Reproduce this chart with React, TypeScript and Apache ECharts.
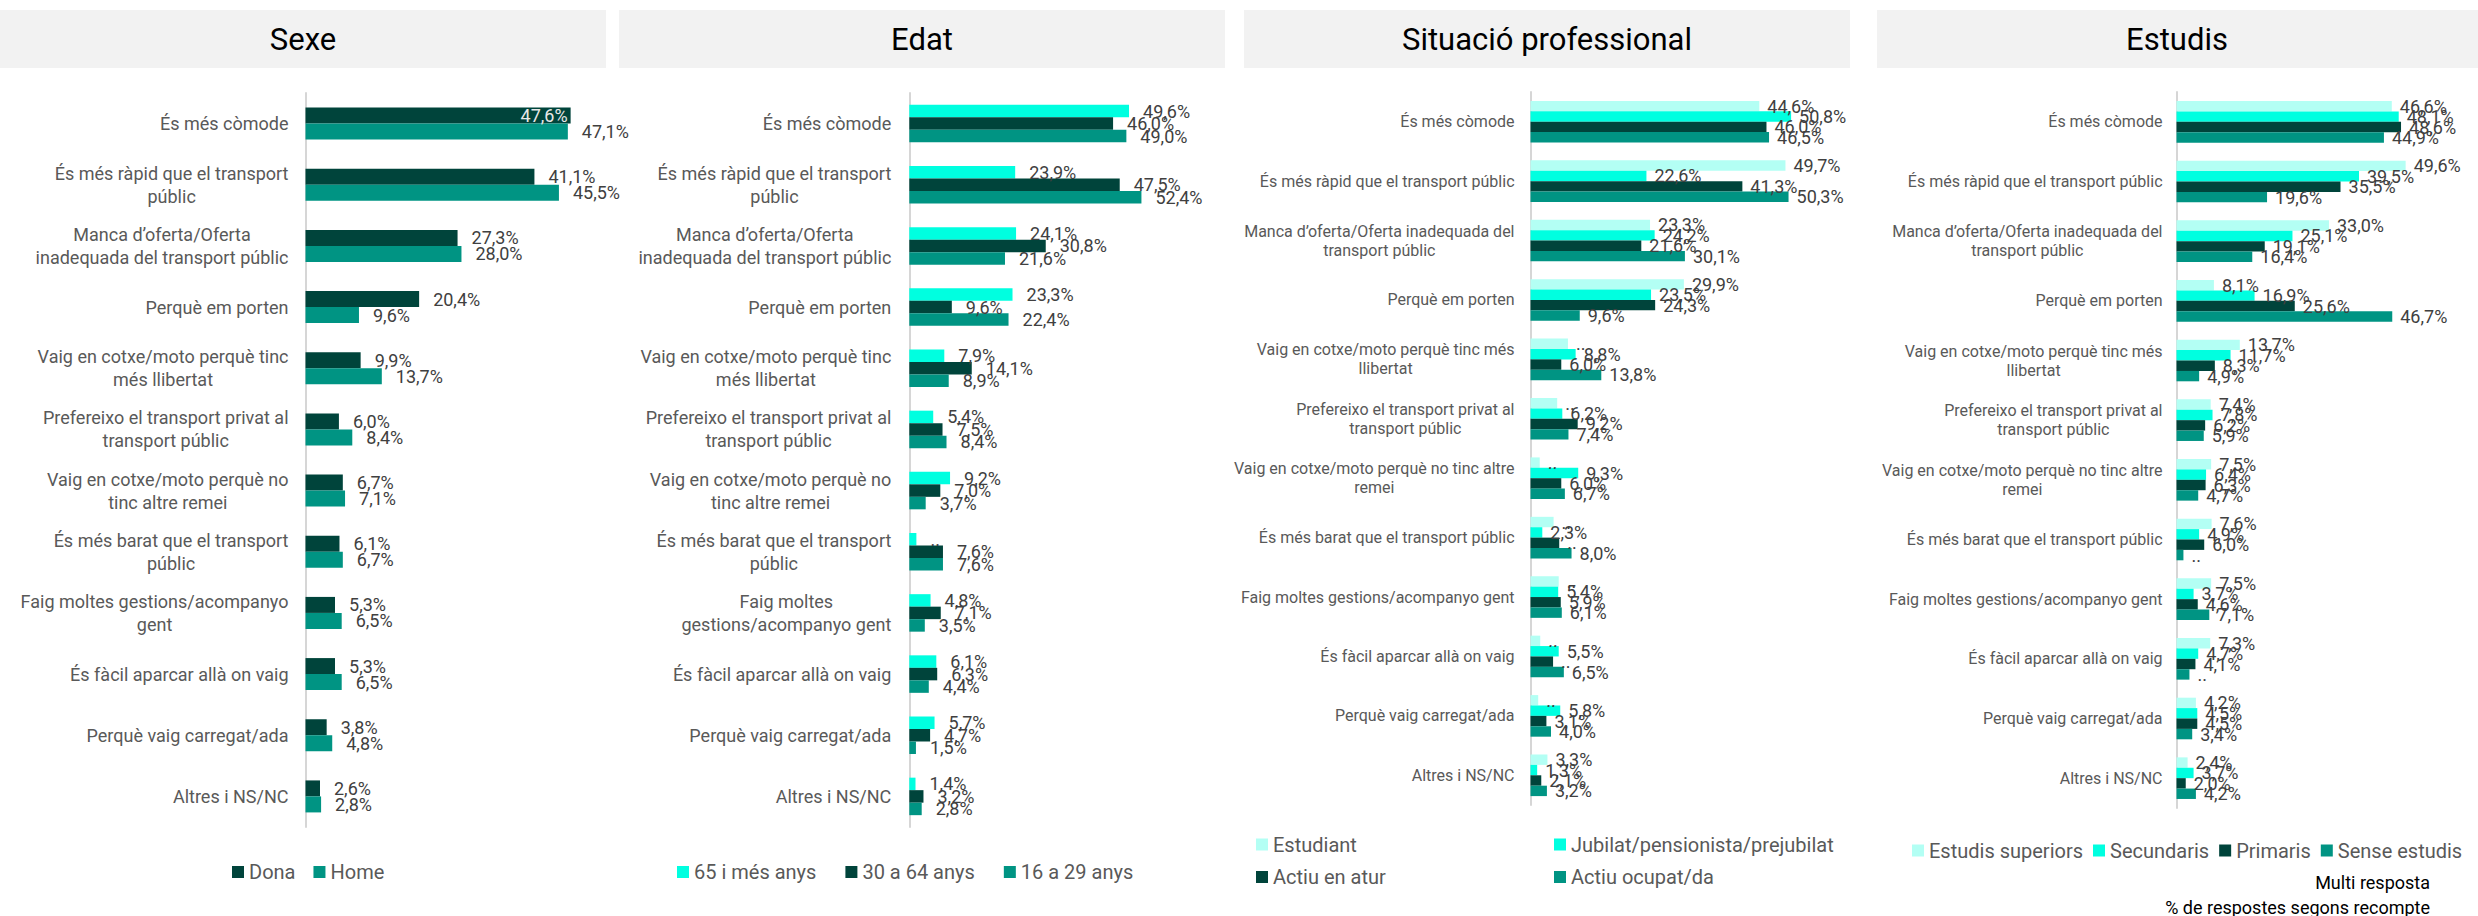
import React, { useEffect, useRef } from 'react';
import * as echarts from 'echarts';

// ---------- DATA ----------
const categories = [
  'És més còmode',
  'És més ràpid que el transport públic',
  'Manca d’oferta/Oferta inadequada del transport públic',
  'Perquè em porten',
  'Vaig en cotxe/moto perquè tinc més llibertat',
  'Prefereixo el transport privat al transport públic',
  'Vaig en cotxe/moto perquè no tinc altre remei',
  'És més barat que el transport públic',
  'Faig moltes gestions/acompanyo gent',
  'És fàcil aparcar allà on vaig',
  'Perquè vaig carregat/ada',
  'Altres i NS/NC',
];

// wrapped tick labels (same categories, line breaks as in each panel)
const sexeTickLabels = [
  'És més còmode',
  'És més ràpid que el transport\npúblic',
  'Manca d’oferta/Oferta\ninadequada del transport públic',
  'Perquè em porten',
  'Vaig en cotxe/moto perquè tinc\nmés llibertat',
  'Prefereixo el transport privat al\ntransport públic',
  'Vaig en cotxe/moto perquè no\ntinc altre remei',
  'És més barat que el transport\npúblic',
  'Faig moltes gestions/acompanyo\ngent',
  'És fàcil aparcar allà on vaig',
  'Perquè vaig carregat/ada',
  'Altres i NS/NC',
];
const edatTickLabels = [
  'És més còmode',
  'És més ràpid que el transport\npúblic',
  'Manca d’oferta/Oferta\ninadequada del transport públic',
  'Perquè em porten',
  'Vaig en cotxe/moto perquè tinc\nmés llibertat',
  'Prefereixo el transport privat al\ntransport públic',
  'Vaig en cotxe/moto perquè no\ntinc altre remei',
  'És més barat que el transport\npúblic',
  'Faig moltes\ngestions/acompanyo gent',
  'És fàcil aparcar allà on vaig',
  'Perquè vaig carregat/ada',
  'Altres i NS/NC',
];
const wideTickLabels = [
  'És més còmode',
  'És més ràpid que el transport públic',
  'Manca d’oferta/Oferta inadequada del\ntransport públic',
  'Perquè em porten',
  'Vaig en cotxe/moto perquè tinc més\nllibertat',
  'Prefereixo el transport privat al\ntransport públic',
  'Vaig en cotxe/moto perquè no tinc altre\nremei',
  'És més barat que el transport públic',
  'Faig moltes gestions/acompanyo gent',
  'És fàcil aparcar allà on vaig',
  'Perquè vaig carregat/ada',
  'Altres i NS/NC',
];

const sexeNames = ['Dona', 'Home'];
const sexeDona = [47.6, 41.1, 27.3, 20.4, 9.9, 6.0, 6.7, 6.1, 5.3, 5.3, 3.8, 2.6];
const sexeHome = [47.1, 45.5, 28.0, 9.6, 13.7, 8.4, 7.1, 6.7, 6.5, 6.5, 4.8, 2.8];

const edatNames = ['65 i més anys', '30 a 64 anys', '16 a 29 anys'];
const edat65 = [49.6, 23.9, 24.1, 23.3, 7.9, 5.4, 9.2, 1.6, 4.8, 6.1, 5.7, 1.4];
const edat30 = [46.0, 47.5, 30.8, 9.6, 14.1, 7.5, 7.0, 7.6, 7.1, 6.3, 4.7, 3.2];
const edat16 = [49.0, 52.4, 21.6, 22.4, 8.9, 8.4, 3.7, 7.6, 3.5, 4.4, 1.5, 2.8];
// [series, category] points shown as ".." (insufficient sample)
const edatLowSample = [[0, 7]];

const situacioNames = ['Estudiant', 'Jubilat/pensionista/prejubilat', 'Actiu en atur', 'Actiu ocupat/da'];
const sitEstudiant = [44.6, 49.7, 23.3, 29.9, 7.3, 5.2, 1.8, 4.5, 5.5, 1.9, 1.5, 3.3];
const sitJubilat = [50.8, 22.6, 24.2, 23.5, 8.8, 6.2, 9.3, 2.3, 5.4, 5.5, 5.8, 1.3];
const sitAtur = [46.0, 41.3, 21.6, 24.3, 6.0, 9.2, 6.0, 5.6, 5.9, 4.4, 3.1, 2.1];
const sitOcupat = [46.5, 50.3, 30.1, 9.6, 13.8, 7.4, 6.7, 8.0, 6.1, 6.5, 4.0, 3.2];
const situacioLowSample = [[0, 4], [0, 5], [0, 6], [0, 7], [0, 8], [0, 9], [0, 10], [2, 7], [2, 9]];

const estudisNames = ['Estudis superiors', 'Secundaris', 'Primaris', 'Sense estudis'];
const estSuperiors = [46.6, 49.6, 33.0, 8.1, 13.7, 7.4, 7.5, 7.6, 7.5, 7.3, 4.2, 2.4];
const estSecundaris = [48.1, 39.5, 25.1, 16.9, 11.7, 7.8, 6.4, 4.9, 3.7, 4.7, 4.5, 3.7];
const estPrimaris = [48.6, 35.5, 19.1, 25.6, 8.3, 6.2, 6.3, 6.0, 4.6, 4.1, 4.5, 2.0];
const estSense = [44.9, 19.6, 16.4, 46.7, 4.9, 5.9, 4.7, 1.5, 7.1, 2.8, 3.4, 4.2];
const estudisLowSample = [[3, 7], [3, 9]];

const footnotes = ['Multi resposta', '% de respostes segons recompte'];

// ---------- STYLE ----------
const FONT = 'Roboto, "Noto Sans", sans-serif';
const PALE = '#B3FFF4';
const CYAN = '#00FFE0';
const DARK = '#00443B';
const TEAL = '#009483';

type Panel = {
  title: string;
  headerX: number;
  headerW: number;
  titleX: number;
  gridLeft: number;
  gridTop: number;
  gridHeight: number;
  pxPerUnit: number;
  axisMax: number;
  tickLabels: string[];
  tickFont: number;
  tickLineHeight: number;
  tickMargin: number;
  names: string[];
  values: number[][];
  colors: string[];
  barWidth: number;
  labelDistance: number;
  lowSample: number[][];
  insideLabel?: number[];
};

const panels: Panel[] = [
  {
    title: 'Sexe', headerX: 0, headerW: 606, titleX: 303,
    gridLeft: 305.5, gridTop: 93, gridHeight: 734, pxPerUnit: 5.57, axisMax: 50,
    tickLabels: sexeTickLabels, tickFont: 18, tickLineHeight: 23, tickMargin: 17,
    names: sexeNames, values: [sexeDona, sexeHome], colors: [DARK, TEAL],
    barWidth: 16, labelDistance: 14, lowSample: [], insideLabel: [0, 0],
  },
  {
    title: 'Edat', headerX: 619, headerW: 606, titleX: 922,
    gridLeft: 909.3, gridTop: 93, gridHeight: 734, pxPerUnit: 4.43, axisMax: 60,
    tickLabels: edatTickLabels, tickFont: 18, tickLineHeight: 23, tickMargin: 18,
    names: edatNames, values: [edat65, edat30, edat16], colors: [CYAN, DARK, TEAL],
    barWidth: 12.5, labelDistance: 14, lowSample: edatLowSample,
  },
  {
    title: 'Situació professional', headerX: 1244, headerW: 606, titleX: 1547,
    gridLeft: 1530.5, gridTop: 92, gridHeight: 713, pxPerUnit: 5.13, axisMax: 55,
    tickLabels: wideTickLabels, tickFont: 16, tickLineHeight: 19, tickMargin: 16,
    names: situacioNames, values: [sitEstudiant, sitJubilat, sitAtur, sitOcupat],
    colors: [PALE, CYAN, DARK, TEAL],
    barWidth: 10.4, labelDistance: 8, lowSample: situacioLowSample,
  },
  {
    title: 'Estudis', headerX: 1877, headerW: 601, titleX: 2177,
    gridLeft: 2176.5, gridTop: 92, gridHeight: 716, pxPerUnit: 4.62, axisMax: 55,
    tickLabels: wideTickLabels, tickFont: 16, tickLineHeight: 19, tickMargin: 14,
    names: estudisNames, values: [estSuperiors, estSecundaris, estPrimaris, estSense],
    colors: [PALE, CYAN, DARK, TEAL],
    barWidth: 10.4, labelDistance: 8, lowSample: estudisLowSample,
  },
];

const fmt = (v: number) => v.toFixed(1).replace('.', ',') + '%';

function buildOption(): any {
  const grid: any[] = [];
  const xAxis: any[] = [];
  const yAxis: any[] = [];
  const series: any[] = [];
  const title: any[] = [];
  const graphic: any[] = [];

  panels.forEach((p, pi) => {
    graphic.push({
      type: 'rect', silent: true, z: -1,
      shape: { x: p.headerX, y: 10, width: p.headerW, height: 58 },
      style: { fill: '#F2F2F2' },
    });
    title.push({
      text: p.title, left: p.titleX, top: 39, textAlign: 'center', textVerticalAlign: 'middle', padding: 0,
      textStyle: { fontSize: 31, fontWeight: 'normal', color: '#000', fontFamily: FONT },
    });
    grid.push({
      left: p.gridLeft, top: p.gridTop, width: p.axisMax * p.pxPerUnit, height: p.gridHeight,
      containLabel: false, outerBoundsMode: 'none',
    });
    xAxis.push({ type: 'value', gridIndex: pi, min: 0, max: p.axisMax, show: false, splitLine: { show: false } });
    yAxis.push({
      type: 'category', gridIndex: pi, inverse: true, data: p.tickLabels,
      axisTick: { show: false },
      axisLine: { show: true, lineStyle: { color: '#D6D6D6', width: 2 } },
      splitLine: { show: false },
      axisLabel: {
        interval: 0, margin: p.tickMargin, align: 'right',
        formatter: (v: string) => v.split('\n').map((l) => `{c|${l}}`).join('\n'),
        rich: { c: { align: 'center', fontSize: p.tickFont, lineHeight: p.tickLineHeight, color: '#595959', fontFamily: FONT } },
      },
    });
    const low = new Set(p.lowSample.map(([s, c]) => `${s}-${c}`));
    p.names.forEach((name, si) => {
      series.push({
        type: 'bar', name, xAxisIndex: pi, yAxisIndex: pi,
        barWidth: p.barWidth, barGap: '0%',
        itemStyle: { color: p.colors[si] },
        label: {
          show: true, position: 'right', distance: p.labelDistance,
          fontSize: 18, color: '#404040', fontFamily: FONT,
          formatter: (params: any) => (low.has(`${si}-${params.dataIndex}`) ? '..' : fmt(Number(params.value))),
        },
        data: p.values[si].map((v, ci) =>
          p.insideLabel && p.insideLabel[0] === si && p.insideLabel[1] === ci
            ? { value: v, label: { position: 'insideRight', distance: 3, color: '#E8E8E8' } }
            : v
        ),
      });
    });
  });

  footnotes.forEach((t, i) => {
    title.push({
      text: t, left: 2430, top: 882 + i * 25, textAlign: 'right', textVerticalAlign: 'middle', padding: 0,
      textStyle: { fontSize: 18, fontWeight: 'normal', color: '#000', fontFamily: FONT },
    });
  });

  const legendBase = {
    orient: 'horizontal', icon: 'rect', itemWidth: 12, itemHeight: 12, padding: 0, selectedMode: false,
    textStyle: { fontSize: 20, color: '#595959', fontFamily: FONT },
  };
  const legend: any[] = [
    { ...legendBase, data: sexeNames, left: 232, top: 862, itemGap: 18 },
    { ...legendBase, data: edatNames, left: 677, top: 862, itemGap: 29 },
    { ...legendBase, data: [situacioNames[0]], left: 1256, top: 834.5 },
    { ...legendBase, data: [situacioNames[1]], left: 1554, top: 834.5 },
    { ...legendBase, data: [situacioNames[2]], left: 1256, top: 867 },
    { ...legendBase, data: [situacioNames[3]], left: 1554, top: 867 },
    { ...legendBase, data: estudisNames, left: 1912, top: 840.5, itemGap: 10 },
  ];

  return {
    animation: false,
    backgroundColor: '#FFFFFF',
    textStyle: { fontFamily: FONT },
    title, grid, xAxis, yAxis, series, legend, graphic,
  };
}

export default function App() {
  const ref = useRef<HTMLDivElement>(null);
  useEffect(() => {
    if (!ref.current) return;
    const chart = echarts.init(ref.current, null, { renderer: 'svg' });
    chart.setOption(buildOption());
    return () => chart.dispose();
  }, []);
  return (
    <div
      ref={ref}
      data-categories={categories.length}
      style={{ position: 'fixed', left: 0, top: 0, width: 2478, height: 916, background: '#fff' }}
    />
  );
}
